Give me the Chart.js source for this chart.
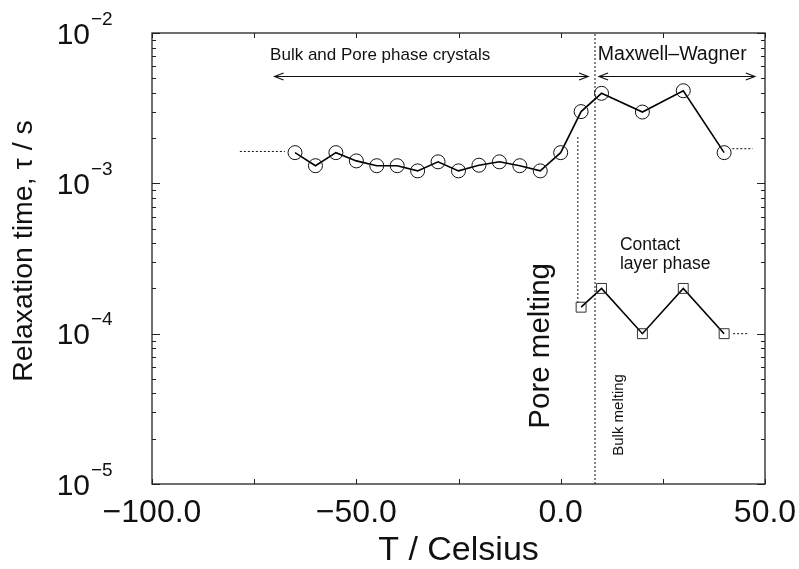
<!DOCTYPE html>
<html><head><meta charset="utf-8">
<script src="https://cdn.jsdelivr.net/npm/chart.js@4"></script>
<style>html,body{margin:0;padding:0;background:#fff}#wrap{width:799px;height:569px}</style>
</head><body><div id="wrap"><canvas id="c" width="799" height="569"></canvas></div>
<script>
// ---- data ----
const tempUpper = [-65,-60,-55,-50,-45,-40,-35,-30,-25,-20,-15,-10,-5,0,5,10,20,30,40];
const tauUpper  = [1.60e-3,1.31e-3,1.60e-3,1.41e-3,1.31e-3,1.31e-3,1.21e-3,1.39e-3,1.21e-3,1.32e-3,1.39e-3,1.31e-3,1.21e-3,1.60e-3,3.0e-3,3.97e-3,2.98e-3,4.13e-3,1.60e-3];
const tempLower = [5,10,20,30,40];
const tauLower  = [1.5e-4,2.0e-4,1.0e-4,2.0e-4,1.0e-4];
const xTickValues = [-100,-50,0,50];
const xTickLabels = ['\u2212100.0','\u221250.0','0.0','50.0'];
const yTickValues = [1e-2,1e-3,1e-4,1e-5];
const yTickExponents = ['\u22122','\u22123','\u22124','\u22125'];
// guide lines (data coordinates)
const leftExtT = [-78.5,-67.5];   const leftExtTau = [1.63e-3,1.63e-3];
const rightExtT = [42,47];        const rightExtTau = [1.7e-3,1.7e-3];
const lowerExtT = [42.2,45.8];    const lowerExtTau = [1.0e-4,1.0e-4];
const bulkMeltT = [8.4,8.4];      const bulkMeltTau = [1e-5,1e-2];
const poreMeltT = [4.2,4.2];      const poreMeltTau = [1.6e-4,2.05e-3];

const FONT = '"Liberation Sans", Arial, Helvetica, sans-serif';
const pts = (xs, ys) => xs.map((v,i)=>({x:v, y:ys[i]}));

const annotations = {
  arrows: [{x1:-70, x2:6.7, y:5.2e-3}, {x1:9.4, x2:47.5, y:5.2e-3}],
  labels: [
    {text:'Bulk and Pore phase crystals', x:-71.1, y:7.15e-3, size:17, align:'left', rot:0},
    {text:'Maxwell\u2013Wagner', x:9.1, y:7.15e-3, size:19.5, align:'left', rot:0},
    {text:'Contact', x:14.5, y:3.9e-4, size:17.5, align:'left', rot:0},
    {text:'layer phase', x:14.5, y:2.88e-4, size:17.5, align:'left', rot:0},
    {text:'Pore melting', x:-4.8, y:8.3e-5, size:29.5, align:'center', rot:-Math.PI/2},
    {text:'Bulk melting', x:14.2, y:2.88e-5, size:15, align:'center', rot:-Math.PI/2}
  ]
};

const dotted = {borderColor:'#111', borderWidth:1, borderDash:[2,2], pointRadius:0, fill:false};

const framePlugin = {
  id:'frame',
  afterDatasetsDraw(chart){
    const {ctx, chartArea:a, scales:{x, y}} = chart;
    ctx.save();
    ctx.strokeStyle = '#222';
    ctx.lineWidth = 1.3;
    ctx.strokeRect(a.left, a.top, a.right-a.left, a.bottom-a.top);
    ctx.lineWidth = 1;
    ctx.beginPath();
    y.ticks.forEach(t=>{
      const e = Math.floor(Math.log10(t.value)+1e-9);
      const m = t.value/Math.pow(10,e);
      if (Math.abs(m-Math.round(m))>1e-6) return;
      const major = Math.abs(m-1)<1e-6 || Math.abs(m-10)<1e-6;
      const L = major ? 8 : 4;
      const py = Math.round(y.getPixelForValue(t.value))+0.5;
      ctx.moveTo(a.left,py); ctx.lineTo(a.left+L,py);
      ctx.moveTo(a.right,py); ctx.lineTo(a.right-L,py);
    });
    x.ticks.forEach(t=>{
      const px = Math.round(x.getPixelForValue(t.value))+0.5;
      ctx.moveTo(px,a.bottom); ctx.lineTo(px,a.bottom-5);
      ctx.moveTo(px,a.top); ctx.lineTo(px,a.top+5);
    });
    ctx.stroke();

    // arrows
    ctx.strokeStyle = '#111';
    ctx.lineWidth = 1.2;
    annotations.arrows.forEach(ar=>{
      const x1 = x.getPixelForValue(ar.x1), x2 = x.getPixelForValue(ar.x2), py = Math.round(y.getPixelForValue(ar.y))+0.5;
      ctx.beginPath();
      ctx.moveTo(x1,py); ctx.lineTo(x2,py);
      ctx.moveTo(x1+9,py-3.5); ctx.lineTo(x1,py); ctx.lineTo(x1+9,py+3.5);
      ctx.moveTo(x2-9,py-3.5); ctx.lineTo(x2,py); ctx.lineTo(x2-9,py+3.5);
      ctx.stroke();
    });

    // annotation text
    ctx.fillStyle = '#111';
    ctx.textBaseline = 'middle';
    annotations.labels.forEach(l=>{
      ctx.save();
      ctx.translate(x.getPixelForValue(l.x), y.getPixelForValue(l.y));
      ctx.rotate(l.rot);
      ctx.font = l.size + 'px ' + FONT;
      ctx.textAlign = l.align;
      ctx.fillText(l.text, 0, 0);
      ctx.restore();
    });

    // y tick labels with superscripts
    yTickValues.forEach((v,i)=>{
      const py = y.getPixelForValue(v);
      ctx.font = '30px ' + FONT;
      ctx.textAlign = 'right';
      ctx.textBaseline = 'alphabetic';
      ctx.fillText('10', 90, py + 10.7);
      ctx.font = '19px ' + FONT;
      ctx.textAlign = 'left';
      ctx.fillText(yTickExponents[i], 91, py - 8.3);
    });

    // axis titles
    ctx.textAlign = 'center';
    ctx.textBaseline = 'middle';
    ctx.font = '28.5px ' + FONT;
    ctx.save();
    ctx.translate(24, 251);
    ctx.rotate(-Math.PI/2);
    ctx.fillText('Relaxation time, \u03c4 / s', 0, 0);
    ctx.restore();
    ctx.font = '34px ' + FONT;
    ctx.fillText('T / Celsius', (a.left+a.right)/2, 551);
    ctx.restore();
  }
};

new Chart(document.getElementById('c'), {
  type:'line',
  data:{datasets:[
    {data:pts(tempUpper,tauUpper), borderColor:'#000', borderWidth:1.6, pointStyle:'circle', pointRadius:7, pointBorderWidth:1, pointBorderColor:'#111', pointBackgroundColor:'rgba(0,0,0,0)', tension:0, fill:false},
    {data:pts(tempLower,tauLower), borderColor:'#000', borderWidth:1.6, pointStyle:'rect', pointRadius:7, pointBorderWidth:1, pointBorderColor:'#333', pointBackgroundColor:'rgba(0,0,0,0)', tension:0, fill:false},
    Object.assign({data:pts(leftExtT,leftExtTau)}, dotted),
    Object.assign({data:pts(rightExtT,rightExtTau)}, dotted),
    Object.assign({data:pts(lowerExtT,lowerExtTau)}, dotted),
    Object.assign({data:pts(bulkMeltT,bulkMeltTau)}, dotted),
    Object.assign({data:pts(poreMeltT,poreMeltTau)}, dotted)
  ]},
  options:{
    responsive:false, animation:false,
    layout:{padding:{top:33, right:34, left:0, bottom:0}},
    plugins:{legend:{display:false}, tooltip:{enabled:false}},
    scales:{
      x:{type:'linear', min:-100, max:50,
         ticks:{stepSize:25, autoSkip:false, maxRotation:0, padding:10, color:'#111', font:{family:FONT, size:32},
                callback:(v)=>{const i = xTickValues.indexOf(v); return i>=0 ? xTickLabels[i] : '';}},
         grid:{display:false, drawTicks:false}, border:{display:false},
         afterFit:(s)=>{s.height = 85; s.paddingLeft = 0; s.paddingRight = 0;}},
      y:{type:'logarithmic', min:1e-5, max:1e-2,
         ticks:{display:false}, grid:{display:false, drawTicks:false}, border:{display:false},
         afterFit:(s)=>{s.width = 152; s.paddingTop = 0; s.paddingBottom = 0;}}
    }
  },
  plugins:[framePlugin]
});
</script>
</body></html>
